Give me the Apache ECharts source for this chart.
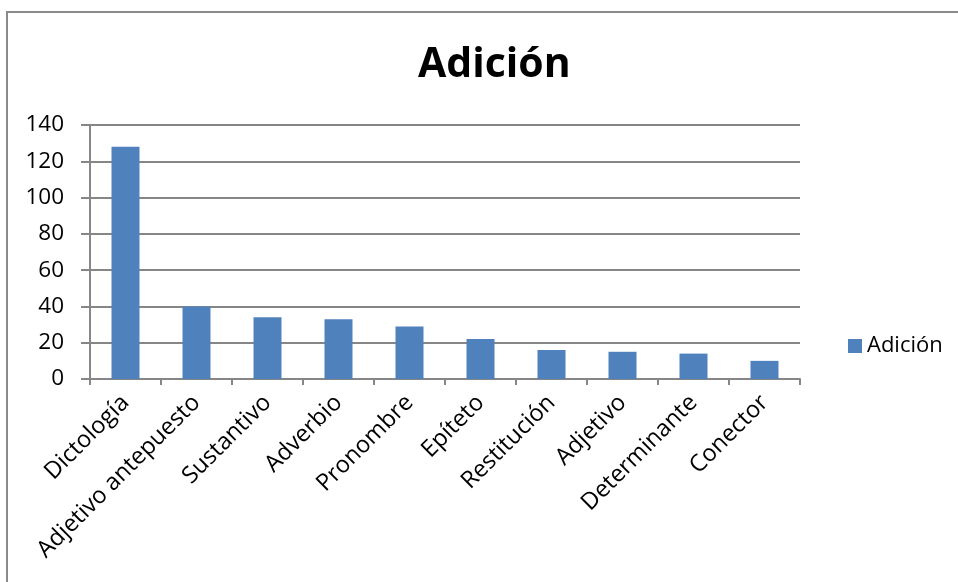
<!DOCTYPE html>
<html>
<head>
<meta charset="utf-8">
<script src="https://cdn.jsdelivr.net/npm/echarts@6/dist/echarts.min.js"></script>
<style>
  html, body { margin: 0; padding: 0; background: #fff; }
  #container { width: 958px; height: 582px; }
</style>
</head>
<body>
<div id="container"></div>
<script>
var categories = ['Dictología', 'Adjetivo antepuesto', 'Sustantivo', 'Adverbio', 'Pronombre',
    'Epíteto', 'Restitución', 'Adjetivo', 'Determinante', 'Conector'];
var adicion = [128, 40, 34, 33, 29, 22, 16, 15, 14, 10];
var yTicks = { min: 0, max: 140, interval: 20 };

var dom = document.getElementById('container');
var myChart = echarts.init(dom, null, { renderer: 'canvas' });

var font = '"Open Sans", "DejaVu Sans", sans-serif';
var gray = '#868686';

var option = {
    backgroundColor: '#fff',
    textStyle: { fontFamily: font },
    title: {
        text: 'Adición',
        left: 413,
        top: 40,
        textStyle: { fontFamily: font, fontSize: 41, fontWeight: 'bold', color: '#000' }
    },
    graphic: [{
        type: 'rect',
        shape: { x: 7, y: 12, width: 1000, height: 700 },
        style: { fill: 'none', stroke: '#8a8a8a', lineWidth: 2 },
        silent: true
    }],
    legend: {
        left: 843,
        top: 330,
        orient: 'vertical',
        itemWidth: 14,
        itemHeight: 14,
        icon: 'rect',
        textStyle: { fontFamily: font, fontSize: 22, color: '#000' },
        data: ['Adición']
    },
    grid: { left: 90, right: 158, top: 125, bottom: 203, containLabel: false },
    xAxis: {
        type: 'category',
        data: categories,
        axisLine: { lineStyle: { color: gray, width: 2 } },
        axisTick: { show: true, length: 6, interval: 0, alignWithLabel: false, lineStyle: { color: gray, width: 2 } },
        axisLabel: {
            interval: 0,
            rotate: 45,
            margin: 20,
            fontSize: 23.5,
            fontFamily: font,
            color: '#000'
        }
    },
    yAxis: {
        type: 'value',
        min: yTicks.min,
        max: yTicks.max,
        interval: yTicks.interval,
        axisLine: { show: true, lineStyle: { color: gray, width: 2 } },
        axisTick: { show: true, length: 9, lineStyle: { color: gray, width: 2 } },
        splitLine: { lineStyle: { color: gray, width: 2 } },
        axisLabel: { margin: 26, fontSize: 22.5, fontFamily: font, color: '#000' }
    },
    series: [{
        name: 'Adición',
        type: 'bar',
        data: adicion,
        barWidth: 28,
        itemStyle: { color: '#4F81BD' },
        animation: false
    }],
    animation: false
};

myChart.setOption(option);
window.addEventListener('resize', myChart.resize);
</script>
</body>
</html>
